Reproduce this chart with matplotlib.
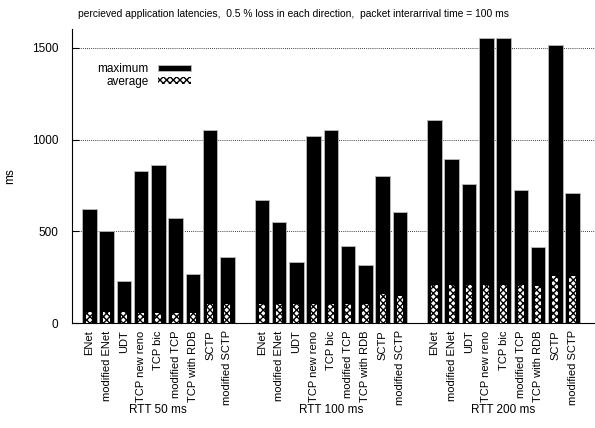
import matplotlib.pyplot as plt
import numpy as np

plt.rcParams['font.family'] = ['Liberation Sans', 'DejaVu Sans']
plt.rcParams['hatch.linewidth'] = 1.0

protocols = ["ENet", "modified ENet", "UDT", "TCP new reno", "TCP bic",
             "modified TCP", "TCP with RDB", "SCTP", "modified SCTP"]
groups = ["RTT 50 ms", "RTT 100 ms", "RTT 200 ms"]

max_50 = [623, 502, 228, 828, 862, 571, 266, 1054, 359]
max_100 = [670, 554, 335, 1018, 1052, 420, 317, 804, 607]
max_200 = [1105, 893, 761, 1554, 1554, 728, 416, 1516, 707]

avg_50 = [60, 60, 60, 58, 58, 58, 56, 107, 105]
avg_100 = [107, 107, 107, 107, 107, 107, 105, 158, 150]
avg_200 = [207, 207, 207, 207, 207, 207, 203, 259, 256]

maxima = [max_50, max_100, max_200]
averages = [avg_50, avg_100, avg_200]

fig = plt.figure(figsize=(5.95, 4.28), dpi=100)
ax = fig.add_axes([0.121, 0.2445, 0.879, 0.687])

xs_all = []
labels_all = []
for g in range(len(groups)):
    xs = np.arange(len(protocols)) + g * (len(protocols) + 1)
    ax.bar(xs, maxima[g], width=0.84, color='black', edgecolor='#bbbbbb',
           linewidth=0.6, zorder=2, label='maximum' if g == 0 else None)
    ax.bar(xs, averages[g], width=0.36, color='white', edgecolor='black',
           hatch='xxxxx', linewidth=0, zorder=3,
           label='average' if g == 0 else None)
    xs_all.extend(xs)
    labels_all.extend(protocols)
    ax.text(xs.mean(), -0.295, groups[g], transform=ax.get_xaxis_transform(),
            ha='center', va='center', fontsize=8.5)

ax.set_xticks(xs_all)
ax.set_xticklabels(labels_all, rotation=90, fontsize=8)
ax.tick_params(axis='x', length=0, pad=5)
ax.tick_params(axis='y', direction='in', length=5, labelsize=8.5, pad=10)
ax.set_yticks([0, 500, 1000, 1500])
ax.set_ylim(0, 1600)
ax.set_xlim(-1.0, 29.3)
ax.yaxis.grid(True, linestyle=(0, (1, 1.5)), color='black', linewidth=0.6)
ax.set_axisbelow(True)
for s in ['top', 'right']:
    ax.spines[s].set_visible(False)
ax.set_ylabel('ms', fontsize=8.5, labelpad=11)

ax.set_title('percieved application latencies,  0.5 % loss in each direction,  packet interarrival time = 100 ms',
             fontsize=7.4, pad=9, x=0.4226)

ax.legend(loc='upper right', bbox_to_anchor=(0.228, 0.885), frameon=False,
          markerfirst=False, fontsize=8.5, handlelength=2.8, handleheight=0.5,
          labelspacing=0.05, borderpad=0, borderaxespad=0, handletextpad=0.8)

fig.savefig('out.png', dpi=100)
